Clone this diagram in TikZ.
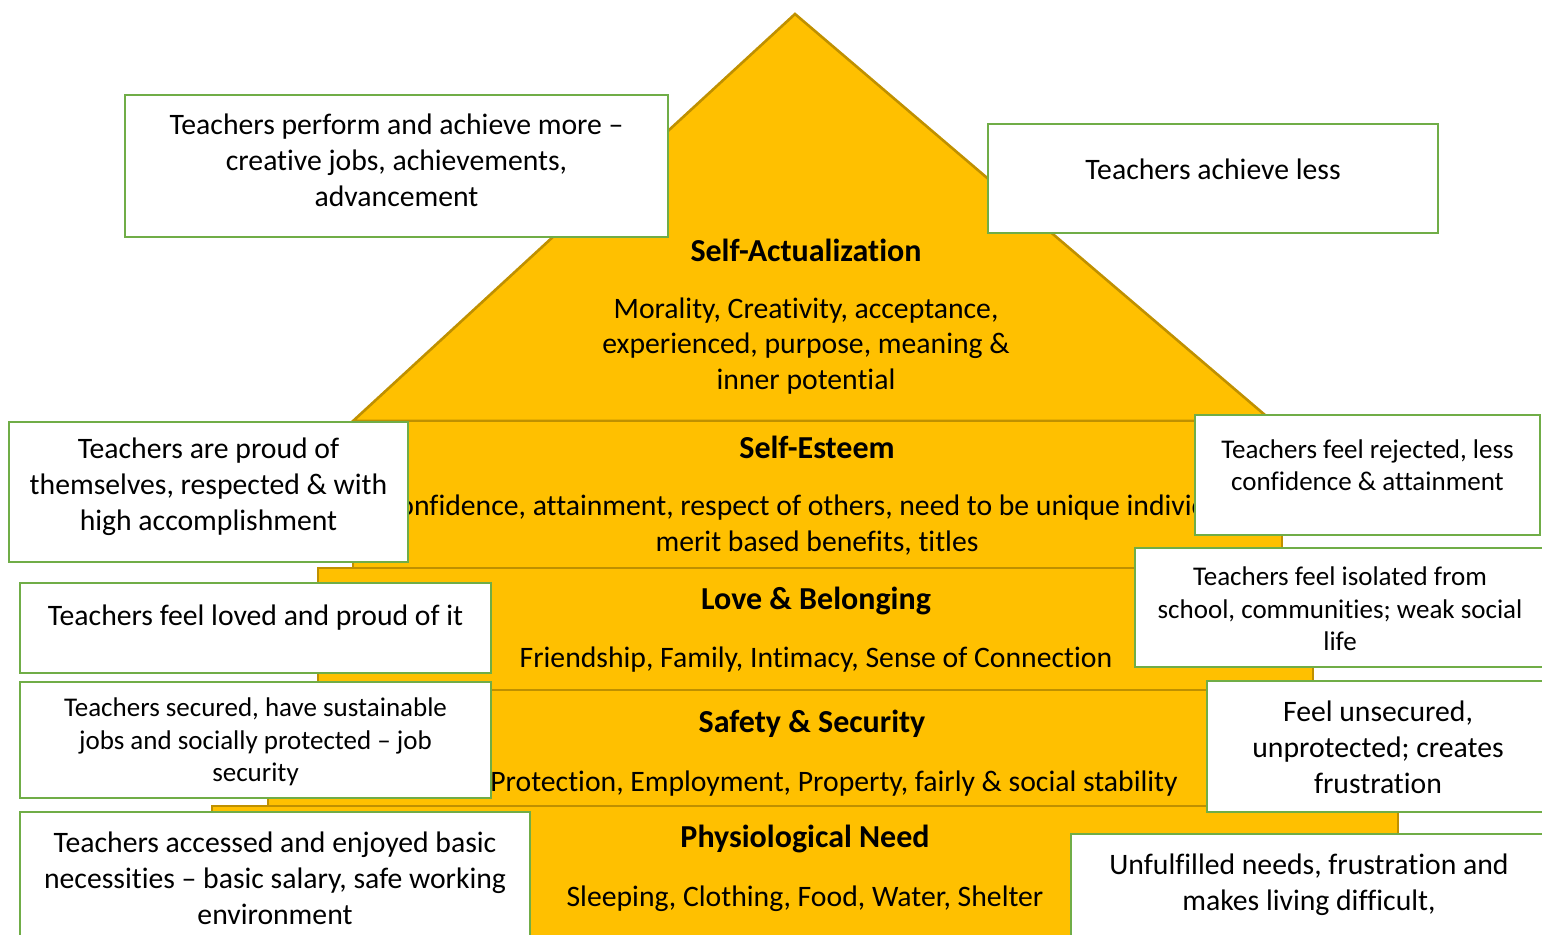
\documentclass[tikz,border=0pt]{standalone}
\usepackage{fontspec}
\setmainfont[Ligatures=NoCommon]{Carlito}
\usepackage{tikz}
\usetikzlibrary{positioning}

\definecolor{pyrfill}{HTML}{FFC000}
\definecolor{pyredge}{HTML}{BF9000}
\definecolor{notegreen}{HTML}{70AD47}

\begin{document}
\begin{tikzpicture}[x=0.5pt, y=-0.5pt,
  level/.style={fill=pyrfill, draw=pyredge, line width=1.3pt},
  head/.style={font=\fontsize{16}{19}\selectfont\bfseries},
  body/.style={font=\fontsize{14.85}{17.9}\selectfont, align=center},
  small/.style={font=\fontsize{13.5}{16.2}\selectfont, align=center},
  note/.style={draw=notegreen, line width=1.2pt, fill=white, inner sep=0pt}]

  \useasboundingbox (0,0) rectangle (1542,934);
  \clip (0,0) rectangle (1542,934);

  % the pyramid: roof, then the four floors from top to bottom
  \draw[level] (795,14) -- (1272,421) -- (353,421) -- cycle;
  \draw[level] (353,421) rectangle (1282,568);
  \draw[level] (318,568) rectangle (1313,690);
  \draw[level] (268,690) rectangle (1362,806);
  \draw[level] (212,806) rectangle (1398,960);

  \node[head] (actT)  at (806,250) {Self-Actualization};
  \node[body] (actB)  at (806,346) {Morality, Creativity, acceptance,\\experienced, purpose, meaning \&\\inner potential};
  \node[head] (estT)  at (817,447) {Self-Esteem};
  \node[body] (estB)  at (817,525) {Confidence, attainment, respect of others, need to be unique individual,\\merit based benefits, titles};
  \node[head] (loveT) at (816,601) {Love \& Belonging};
  \node[body] (loveB) at (816,660) {Friendship, Family, Intimacy, Sense of Connection};
  \node[head] (safeT) at (812,724) {Safety \& Security};
  \node[body] (safeB) at (834,784) {Protection, Employment, Property, fairly \& social stability};
  \node[head] (physT) at (805,839) {Physiological Need};
  \node[body] (physB) at (805,899) {Sleeping, Clothing, Food, Water, Shelter};

  % note frames: met needs on the left, unmet needs on the right
  \node[note, minimum width=271.5pt, minimum height=71pt]  (actYes)  at (396.5,166) {};
  \node[note, minimum width=225pt,   minimum height=54.5pt] (actNo)  at (1213,178.5) {};
  \node[note, minimum width=199.5pt, minimum height=70pt]  (estYes)  at (208.5,492) {};
  \node[note, minimum width=172.5pt, minimum height=60pt]  (estNo)   at (1367.5,475) {};
  \node[note, minimum width=235.5pt, minimum height=45pt]  (loveYes) at (255.5,628) {};
  \node[note, minimum width=205pt,   minimum height=59.5pt] (loveNo) at (1340,607.5) {};
  \node[note, minimum width=235.5pt, minimum height=58pt]  (safeYes) at (255.5,740) {};
  \node[note, minimum width=171pt,   minimum height=65.5pt] (safeNo) at (1378,746.5) {};
  \node[note, minimum width=255pt,   minimum height=80pt]  (physYes) at (275,892) {};
  \node[note, minimum width=238pt,   minimum height=80pt]  (physNo)  at (1309,914) {};

  % note texts, set from the top of each frame
  \node[body]  (actYesT)  at (396.5,160) {Teachers perform and achieve more --\\creative jobs, achievements,\\advancement};
  \node[body]  (actNoT)   at (1213,169)  {Teachers achieve less};
  \node[body]  (estYesT)  at (208.5,487) {Teachers are proud of\\themselves, respected \& with\\high accomplishment};
  \node[small] (estNoT)   at (1367.5,465.5) {Teachers feel rejected, less\\confidence \& attainment};
  \node[body]  (loveYesT) at (255.5,618) {Teachers feel loved and proud of it};
  \node[small] (loveNoT)  at (1340,609)  {Teachers feel isolated from\\school, communities; weak social\\life};
  \node[small] (safeYesT) at (255.5,742) {Teachers secured, have sustainable\\jobs and socially protected -- job\\security};
  \node[body]  (safeNoT)  at (1378,747)  {Feel unsecured,\\unprotected; creates\\frustration};
  \node[body]  (physYesT) at (275,878)   {Teachers accessed and enjoyed basic\\necessities -- basic salary, safe working\\environment};
  \node[body]  (physNoT)  at (1309,885)  {Unfulfilled needs, frustration and\\makes living difficult,};
\end{tikzpicture}
\end{document}
